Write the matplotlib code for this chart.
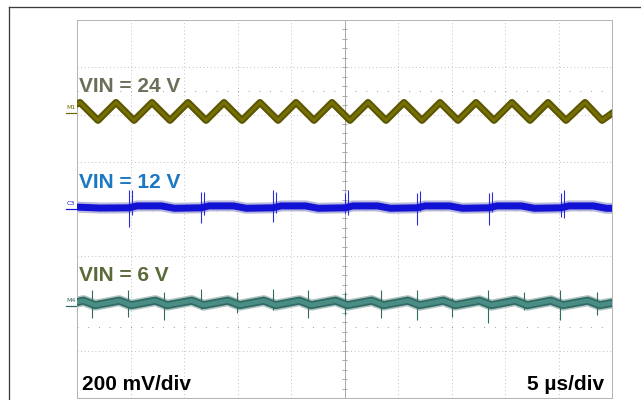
import numpy as np
import matplotlib
matplotlib.use('Agg')
import matplotlib.pyplot as plt
from matplotlib.lines import Line2D

# time in us (5 us/div, 10 div), level in mV (200 mV/div, 8 div)
# VIN = 24 V trace (triangle ripple), vertices
t_24 = [0.0, 0.28, 1.96, 3.64, 5.33, 7.01, 8.69, 10.37, 12.06, 13.74, 15.42,
        17.10, 18.79, 20.47, 22.15, 23.83, 25.51, 27.20, 28.88, 30.56, 32.24,
        33.93, 35.61, 37.29, 38.97, 40.65, 42.34, 44.02, 45.70, 47.48, 49.07, 50.0]
v_24 = [445, 451, 375, 451, 375, 451, 375, 451, 375, 451, 375,
        451, 375, 451, 375, 451, 375, 451, 375, 451, 375,
        451, 375, 451, 375, 451, 375, 451, 375, 451, 375, 405]

# VIN = 12 V trace
t_12 = [0.0, 2.2, 4.86, 5.60, 7.90, 9.10, 11.59, 12.33, 14.63, 15.83,
        18.32, 19.06, 21.36, 22.56, 25.05, 25.79, 28.09, 29.29, 31.78, 32.52,
        34.82, 36.02, 38.50, 39.24, 41.54, 42.74, 45.23, 45.97, 48.27, 49.47, 50.0]
v_12 = [8, 4, 5, 13, 13, 3, 5, 13, 13, 3,
        5, 13, 13, 3, 5, 13, 13, 3, 5, 13,
        13, 3, 5, 13, 13, 3, 5, 13, 13, 3, 3]
spike_12_t = [4.86, 5.17, 11.59, 11.90, 18.32, 18.63, 25.05, 25.36,
              31.78, 32.09, 38.50, 38.81, 45.23, 45.54]
spike_12_hi = [80, 80, 73, 73, 80, 73, 68, 80, 69, 77, 69, 73, 69, 80]
spike_12_lo = [-76, -25, -59, -25, -54, -17, -17, -25, -68, -7, -68, -11, -33, -38]

# VIN = 6 V trace
t_6 = [0.0, 0.59, 1.71, 3.95, 5.07, 7.32, 8.44, 10.72, 11.84, 14.09, 15.21,
       17.45, 18.57, 20.78, 21.90, 24.16, 25.28, 27.54, 28.66, 30.91, 32.03,
       34.24, 35.36, 37.60, 38.72, 40.96, 42.08, 44.30, 45.42, 47.73, 48.85, 50.0]
v_6 = [-394, -388, -407, -388, -407, -388, -407, -388, -407, -388, -407,
       -388, -407, -388, -407, -388, -407, -388, -407, -388, -407,
       -388, -407, -388, -407, -388, -407, -388, -407, -388, -407, -398]
spike_6_t = [1.43, 4.79, 8.16, 11.56, 14.93, 18.29, 21.62, 25.0,
             28.38, 31.75, 35.08, 38.44, 41.80, 45.14, 48.57]
spike_6_hi = [-343, -343, -350, -339, -350, -339, -343, -351,
              -343, -343, -377, -343, -350, -343, -350]
spike_6_lo = [-461, -456, -470, -423, -440, -427, -460, -449,
              -461, -470, -456, -482, -427, -470, -449]

labels = ['VIN = 24 V', 'VIN = 12 V', 'VIN = 6 V']
label_y = [495, 89, -305]
label_colors = ['#6b6f57', '#1b78c4', '#5a6a38']
markers = ['M1', 'C3', 'M4']
marker_y = [406, 0, -412]
marker_colors = ['#6b6400', '#1212d6', '#2f6b64']

PX = 0.72  # points per pixel at dpi 100

fig = plt.figure(figsize=(6.41, 4.0), dpi=100)
fig.patch.set_facecolor('white')
ax = fig.add_axes([77 / 641, 2 / 400, 535 / 641, 378 / 400])
ax.set_xlim(0, 50)
ax.set_ylim(-800, 800)
ax.set_xticks([])
ax.set_yticks([])
for s in ax.spines.values():
    s.set_color('#b4b4b4')
    s.set_linewidth(1.0 * PX)

# graticule
grid_kw = dict(color='#b8b8b8', lw=0.9 * PX, linestyle=(0, (1, 3)), zorder=1)
for x in np.arange(5, 50, 5):
    if x != 25:
        ax.axvline(x, **grid_kw)
for y in np.arange(-600, 800, 200):
    if y != 0:
        ax.axhline(y, **grid_kw)
ax.axvline(25, color='#a8a8a8', lw=1.0 * PX, zorder=1)
ax.axhline(0, color='#a8a8a8', lw=1.0 * PX, zorder=1)
ax.hlines(np.arange(-760, 800, 40), 25 - 0.19, 25 + 0.19, color='#a8a8a8', lw=1.0 * PX, zorder=1)
ax.vlines(np.arange(1, 50, 1), -8.5, 8.5, color='#a8a8a8', lw=1.0 * PX, zorder=1)
for y in (500, -500):
    ax.axhline(y, color='#a0a0a0', lw=1.0 * PX, linestyle=(0, (1, 9.7)), zorder=1)

# VIN = 24 V
ax.plot(t_24, v_24, color='#5c5600', lw=7 * PX, zorder=3)
ax.plot(t_24, v_24, color='#766f06', lw=3 * PX, zorder=3)

# VIN = 12 V
ax.plot(t_12, v_12, color='#b8b8dc', lw=11 * PX, zorder=3)
ax.vlines(spike_12_t, spike_12_lo, spike_12_hi, color='#2a2ae0', lw=1.1 * PX, zorder=4)
ax.plot(t_12, v_12, color='#1212d6', lw=7 * PX, zorder=4)

# VIN = 6 V
ax.plot(t_6, v_6, color='#aec2bf', lw=11 * PX, zorder=3)
ax.vlines(spike_6_t, spike_6_lo, spike_6_hi, color='#2f6a63', lw=1.1 * PX, zorder=4)
ax.plot(t_6, v_6, color='#2f6b64', lw=8 * PX, zorder=4)
ax.plot(t_6, v_6, color='#4a8d85', lw=4.5 * PX, zorder=4)

# labels
for txt, y, c in zip(labels, label_y, label_colors):
    ax.text(0.19, y, txt, color=c, fontsize=15, fontweight='bold',
            family='Liberation Sans', va='baseline', ha='left', zorder=6)
ax.text(0.47, -766, '200 mV/div', color='black', fontsize=15, fontweight='bold',
        family='Liberation Sans', va='baseline', ha='left', zorder=6)
ax.text(49.25, -766, '5 µs/div', color='black', fontsize=15, fontweight='bold',
        family='Liberation Sans', va='baseline', ha='right', zorder=6)

# channel reference markers left of the screen
for m, y, c in zip(markers, marker_y, marker_colors):
    ax.text(-0.15, y + 12, m, color=c, fontsize=4.5, family='DejaVu Sans',
            va='bottom', ha='right', clip_on=False)
    ax.plot([-1.0, 0.0], [y, y], color=c, lw=1.2 * PX, clip_on=False)

# outer frame lines
fig.add_artist(Line2D([9 / 641, 1.0], [1 - 7 / 400, 1 - 7 / 400],
                      color='#3a3a3a', lw=1.3 * PX))
fig.add_artist(Line2D([9 / 641, 9 / 641], [0.0, 1 - 7 / 400],
                      color='#3a3a3a', lw=1.3 * PX))

fig.savefig('out.png', dpi=100, facecolor='white')
plt.close(fig)
